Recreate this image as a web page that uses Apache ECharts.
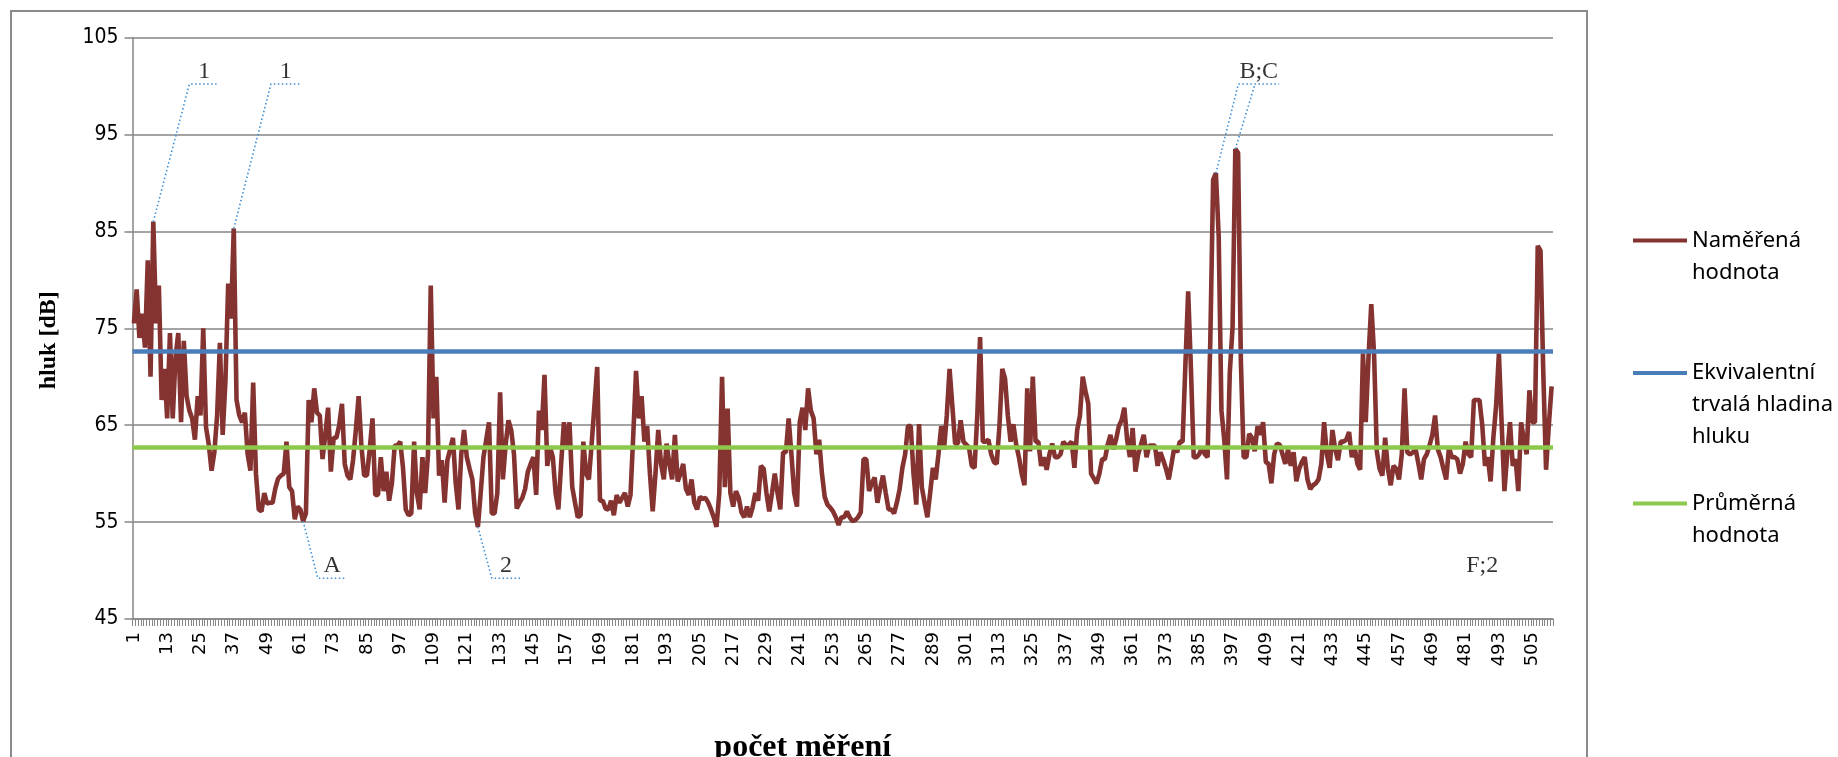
<!DOCTYPE html>
<html>
<head>
<meta charset="utf-8">
<title>hluk</title>
<script src="https://cdn.jsdelivr.net/npm/echarts@6/dist/echarts.min.js"></script>
<style>
  html, body { margin: 0; padding: 0; background: #ffffff; }
  #chart { width: 1838px; height: 757px; }
</style>
</head>
<body>
<div id="chart"></div>
<script>
// Naměřené hodnoty hluku [dB], jedna hodnota na každé měření (1 … 512)
const measured = [
  75.5, 79, 74, 76.5, 73, 82, 70, 86, 75.5, 79.4,
  67.6, 70.8, 65.7, 74.5, 65.7, 72, 74.5, 65.3, 73.7, 68,
  66.5, 65.7, 63.5, 68, 66, 75, 64.8, 63, 60.3, 62.2,
  66, 73.5, 64, 69.6, 79.6, 76, 85.3, 67.6, 66, 65.3,
  66.3, 62, 60.3, 69.4, 60, 56.3, 56.1, 58, 56.9, 57,
  57, 58.5, 59.5, 59.8, 60, 63.3, 58.6, 58.2, 55.3, 56.6,
  56.3, 55.1, 55.9, 67.6, 65.3, 68.8, 66.3, 66, 61.5, 64,
  66.8, 60.2, 63.7, 63.7, 65, 67.2, 61, 59.8, 59.4, 61.4,
  64.5, 68, 62.9, 59.8, 59.8, 62.5, 65.7, 57.8, 57.8, 61.7,
  58.2, 60.2, 57.2, 59, 62.9, 62.9, 63.3, 60.6, 56.3, 55.7,
  55.9, 63.3, 58, 56.3, 61.7, 58, 62, 79.4, 65.7, 70,
  59.8, 61.4, 57, 61.4, 62.5, 63.7, 59, 56.3, 62, 64.5,
  61.7, 60.5, 59.4, 55.9, 54.5, 58, 61.7, 63.5, 65.3, 55.9,
  55.9, 58, 68.4, 59.4, 63, 65.5, 64.5, 62, 56.4, 57,
  57.5, 58.4, 60.2, 61, 61.7, 57.8, 66.5, 64.5, 70.2, 60.8,
  62.7, 61.7, 58, 56.3, 61, 65.3, 62.5, 65.3, 58.6, 57,
  55.5, 55.7, 63.3, 60, 59.4, 63.1, 67, 71, 57.2, 57.2,
  56.4, 56.3, 57.2, 55.7, 57.8, 57, 57.5, 58, 56.6, 57.8,
  64, 70.6, 65.7, 68, 63.3, 64.9, 60, 56.1, 60, 64.5,
  61, 59.4, 63.1, 61, 59.4, 64, 59.2, 60, 61, 58.4,
  57.8, 59.4, 57, 56.3, 57.6, 57.4, 57.5, 57, 56.3, 55.5,
  54.5, 58, 70, 58.6, 66.7, 58, 56.6, 58.2, 57.5, 56,
  55.5, 56.6, 55.5, 56.5, 58, 57.2, 60.8, 60.5, 58, 56.1,
  58, 60, 58, 56.3, 62.2, 62.2, 65.7, 62, 58, 56.6,
  65.3, 66.8, 64.5, 68.8, 66.5, 65.7, 62, 63.5, 60, 57.6,
  56.8, 56.5, 56.1, 55.5, 54.7, 55.5, 55.5, 56.1, 55.5, 55.1,
  55.2, 55.5, 56, 61.5, 61.5, 58.2, 59, 59.6, 57, 58.5,
  59.8, 58, 56.3, 56.3, 55.9, 57, 58.4, 60.6, 62, 64.9,
  64.9, 60, 56.8, 65.1, 58.6, 57, 55.5, 58, 60.6, 59.4,
  62, 64.9, 62.5, 66, 70.8, 67, 63.1, 63.1, 65.5, 63.3,
  63, 62.7, 60.8, 60.6, 66, 74.1, 63.3, 63.3, 63.5, 62,
  61.2, 61, 65, 70.8, 69.8, 66, 63.3, 65.1, 63, 61.7,
  60, 58.8, 68.8, 62.3, 70, 63.3, 63.3, 60.8, 61.7, 60.4,
  62, 63.1, 61.7, 61.7, 62, 63.3, 62.9, 63, 63.3, 60.6,
  64.5, 66, 70, 68.5, 67.2, 60, 59.5, 59, 60, 61.5,
  61.5, 63, 64, 62.5, 63.5, 64.9, 65.5, 66.8, 63.5, 61.7,
  64.7, 60.2, 62, 63, 64, 61.7, 62.9, 62.9, 62.9, 60.8,
  62.2, 61.4, 60.5, 59.4, 61, 62.7, 62.2, 63.3, 63.3, 71.2,
  78.8, 70.8, 61.7, 61.7, 62, 62.7, 62, 61.7, 74, 90.3,
  91, 84.5, 66.5, 63.5, 59.4, 70.4, 75.1, 93.5, 93.1, 71.6,
  61.7, 61.7, 64.1, 63.7, 62.3, 64.9, 64, 65.3, 61.2, 61,
  59, 62, 63.1, 63, 62, 61, 62.5, 60.8, 62.2, 59.2,
  60.5, 61.2, 61.7, 59.4, 58.4, 58.8, 59, 59.4, 61, 65.3,
  62, 60.6, 64.5, 62.5, 61.4, 63.3, 63.3, 63.5, 64.3, 61.7,
  62.7, 61, 60.4, 72.4, 65.3, 72, 77.5, 72.4, 62.3, 60.5,
  59.8, 63.7, 60.5, 58.8, 60.8, 60.5, 59.4, 62, 68.8, 62.2,
  62, 62.2, 62.5, 61, 59.4, 61.5, 62, 62.9, 64, 66,
  62.5, 61.7, 60.5, 59.4, 62.7, 61.7, 61.7, 61.5, 60, 61,
  63.3, 62, 61.7, 67.6, 67.6, 67.6, 65, 60.8, 61.7, 59.2,
  63.7, 67, 72.4, 65.1, 58.2, 62, 65.3, 60.8, 61.5, 58.2,
  65.3, 63.5, 62, 68.6, 65.3, 65.3, 83.5, 83, 70.4, 60.4,
  65, 69
];

// Ekvivalentní trvalá hladina hluku a průměrná hodnota [dB]
const leqLevel = 72.6;
const meanLevel = 62.7;

// Osa y: rozsah a krok popisků
const yMin = 45;
const yMax = 105;
const yStep = 10;

// Pořadová čísla měření pro kategorie osy x
const measurementNo = measured.map((_, i) => String(i + 1));

// Popisky událostí: číslo měření, kam ukazuje odkaz, zlom odkazu a konec vodorovné čáry
const callouts = [
  { text: '1',   from: [8],        elbow: [21],           end: 31.7,  level: 100.2 },
  { text: '1',   from: [37],       elbow: [50.4],         end: 61.1,  level: 100.2 },
  { text: 'A',   from: [62],       elbow: [67.3],         end: 77.7,  level: 49.2 },
  { text: '2',   from: [125],      elbow: [130],          end: 140.2, level: 49.2 },
  { text: 'B;C', from: [391, 398], elbow: [399.1, 405.1], end: 413.8, level: 100.2 }
];
// Samostatný popisek bez odkazové čáry
const looseNotes = [
  { text: 'F;2', at: 487, level: 49.2 }
];

const names = {
  measured: 'Naměřená hodnota',
  leq: 'Ekvivalentní trvalá hladina hluku',
  mean: 'Průměrná hodnota'
};
const legendLines = {
  'Naměřená hodnota': ['Naměřená', 'hodnota'],
  'Ekvivalentní trvalá hladina hluku': ['Ekvivalentní', 'trvalá hladina', 'hluku'],
  'Průměrná hodnota': ['Průměrná', 'hodnota']
};

const gridColor = '#868686';
const serif = "'Liberation Serif', 'Times New Roman', serif";
const n = measured.length;

const series = [
  {
    name: names.measured,
    type: 'line',
    data: measured,
    xAxisIndex: 0,
    symbol: 'none',
    lineStyle: { color: '#843331', width: 4.6 },
    itemStyle: { color: '#843331' },
    z: 2
  },
  {
    name: names.leq,
    type: 'line',
    xAxisIndex: 1,
    data: [[0.5, leqLevel], [n + 0.5, leqLevel]],
    symbol: 'none',
    lineStyle: { color: '#4a7ebb', width: 4.4 },
    itemStyle: { color: '#4a7ebb' },
    z: 3
  },
  {
    name: names.mean,
    type: 'line',
    xAxisIndex: 1,
    data: [[0.5, meanLevel], [n + 0.5, meanLevel]],
    symbol: 'none',
    lineStyle: { color: '#8cc84b', width: 4.4 },
    itemStyle: { color: '#8cc84b' },
    z: 4
  }
];

// Odkazové čáry popisků (tečkované), vedené z hodnoty daného měření
const leaderStyle = { color: '#3d8fd6', width: 1.6, type: [1.5, 2.5] };
callouts.forEach((c) => {
  c.from.forEach((idx, k) => {
    const pts = [[idx, measured[idx - 1]], [c.elbow[k], c.level]];
    if (k === 0) pts.push([c.end, c.level]);
    series.push({
      type: 'line',
      xAxisIndex: 1,
      data: pts,
      symbol: 'none',
      silent: true,
      lineStyle: leaderStyle,
      z: 5
    });
  });
});

// Texty popisků nad vodorovnou částí odkazu
const noteData = callouts.map((c) => ({
  value: [(c.elbow[0] + c.end) / 2, c.level],
  text: c.text
})).concat(looseNotes.map((p) => ({ value: [p.at, p.level], text: p.text })));

series.push({
  type: 'scatter',
  xAxisIndex: 1,
  data: noteData,
  symbolSize: 1,
  silent: true,
  itemStyle: { color: 'transparent' },
  label: {
    show: true,
    position: 'top',
    distance: 0,
    formatter: (p) => p.data.text,
    fontFamily: serif,
    fontSize: 24,
    color: '#000'
  },
  z: 6
});

// Legenda: značka u prvního řádku textu (prázdné řádky nahoře vyrovnají střed)
function legendBlock(name, top) {
  const lines = legendLines[name];
  const pad = new Array(lines.length - 1).fill('').join('\n');
  return {
    data: [name],
    orient: 'vertical',
    left: 1633,
    top: top,
    padding: 0,
    icon: 'rect',
    itemWidth: 54,
    itemHeight: 4,
    itemGap: 0,
    selectedMode: false,
    formatter: () => (lines.length > 1 ? pad + '\n' : '') + lines.join('\n'),
    textStyle: {
      fontFamily: "'Noto Sans', 'DejaVu Sans', sans-serif",
      fontSize: 22,
      lineHeight: 32,
      color: '#000'
    }
  };
}

const chart = echarts.init(document.getElementById('chart'), null, { renderer: 'canvas' });
chart.setOption({
  animation: false,
  backgroundColor: '#ffffff',
  grid: {
    left: 132.5, right: 285, top: 37.5, bottom: 138,
    containLabel: false,
    outerBoundsMode: 'none'
  },
  legend: [
    legendBlock(names.measured, 192.5),
    legendBlock(names.leq, 293),
    legendBlock(names.mean, 455.5)
  ],
  xAxis: [
    {
      type: 'category',
      data: measurementNo,
      boundaryGap: true,
      name: 'počet měření',
      nameLocation: 'middle',
      nameGap: 113,
      nameTextStyle: {
        fontFamily: serif,
        fontWeight: 'bold',
        fontSize: 32,
        color: '#000',
        padding: [0, 80, 0, 0]
      },
      axisLine: { show: true, lineStyle: { color: gridColor, width: 1.5 } },
      axisTick: { show: true, interval: 0, length: 7, lineStyle: { color: gridColor, width: 1 } },
      axisLabel: {
        interval: 11,
        rotate: 90,
        margin: 13,
        padding: [8, 0, 0, 0],
        fontFamily: "'DejaVu Sans', sans-serif",
        fontSize: 18,
        color: '#000'
      },
      splitLine: { show: false }
    },
    {
      type: 'value',
      min: 0.5,
      max: n + 0.5,
      show: false,
      splitLine: { show: false }
    }
  ],
  yAxis: {
    type: 'value',
    min: yMin,
    max: yMax,
    interval: yStep,
    name: 'hluk [dB]',
    nameLocation: 'middle',
    nameRotate: 90,
    nameGap: 72,
    nameTextStyle: {
      fontFamily: serif,
      fontWeight: 'bold',
      fontSize: 24,
      color: '#000',
      padding: [0, 24, 0, 0]
    },
    axisLine: { show: true, lineStyle: { color: gridColor, width: 1.5 } },
    axisTick: { show: true, length: 8, lineStyle: { color: gridColor, width: 1.5 } },
    axisLabel: {
      margin: 14,
      fontFamily: "'Liberation Sans Narrow', 'DejaVu Sans Condensed', sans-serif",
      fontSize: 21,
      color: '#000'
    },
    splitLine: { show: true, lineStyle: { color: gridColor, width: 1.5 } }
  },
  graphic: [
    {
      type: 'rect',
      shape: { x: 11, y: 11, width: 1576, height: 800 },
      style: { fill: 'none', stroke: '#8a8a8a', lineWidth: 2 },
      silent: true,
      z: -1
    }
  ],
  series: series
});
</script>
</body>
</html>
